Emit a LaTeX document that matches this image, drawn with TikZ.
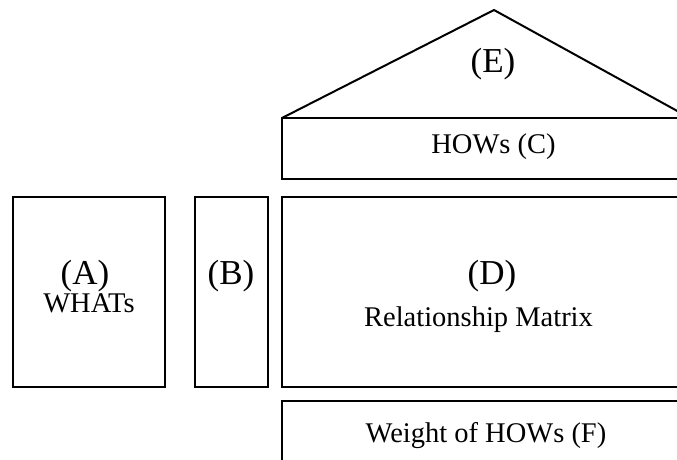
\documentclass[tikz,border=0pt]{standalone}
\usepackage{fontspec}
\setmainfont{Liberation Serif}
\begin{document}
\begin{tikzpicture}[x=1pt,y=-1pt,
  box/.style={draw=black, line width=2pt, rectangle, inner sep=0pt},
  letter/.style={anchor=base, inner sep=0pt, font=\fontsize{35}{40}\selectfont},
  caption/.style={anchor=base, inner sep=0pt, font=\fontsize{28.5}{32}\selectfont}]
  \useasboundingbox (0,0) rectangle (677,460);
  \clip (0,0) rectangle (677,460);

  % roof (E)
  \coordinate (roofL) at (282,118);
  \coordinate (roofT) at (494,10);
  \coordinate (roofR) at (690,118);
  \draw[line width=2pt, line join=miter] (roofL) -- (roofT) -- (roofR);

  % boxes
  \node[box, minimum width=152pt, minimum height=190pt] (A) at (89,292) {};
  \node[box, minimum width=73pt,  minimum height=190pt] (B) at (231.5,292) {};
  \node[box, minimum width=438pt, minimum height=61pt]  (C) at (501,148.5) {};
  \node[box, minimum width=438pt, minimum height=190pt] (D) at (501,292) {};
  \node[box, minimum width=438pt, minimum height=79pt]  (F) at (501,440.5) {};

  % labels
  \node[letter]  (tE)  at (493,72)   {(E)};
  \node[caption] (tC)  at (493.5,153) {HOWs (C)};
  \node[letter]  (tA)  at (85,284)   {(A)};
  \node[caption] (tA2) at (89,312)   {WHATs};
  \node[letter]  (tB)  at (231,284)  {(B)};
  \node[letter]  (tD)  at (492,284)  {(D)};
  \node[caption] (tD2) at (478.5,326) {Relationship Matrix};
  \node[caption] (tF)  at (486,442)  {Weight of HOWs (F)};
\end{tikzpicture}
\end{document}
